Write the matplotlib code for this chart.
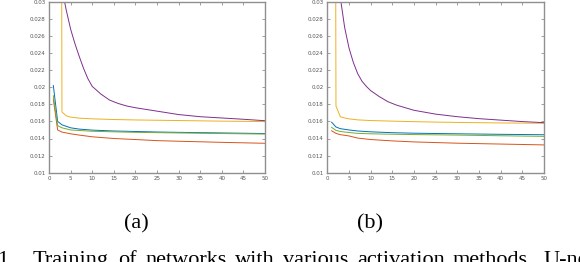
import matplotlib
matplotlib.use("Agg")
import matplotlib.pyplot as plt
import numpy as np

# MATLAB default colours
c_blue, c_red, c_yellow, c_purple, c_green = "#0072BD", "#D95319", "#EDB120", "#7E2F8E", "#77AC30"

# (a) loss curves
a_blue_x = [1, 2, 3, 5, 7, 10, 15, 20, 25, 30, 40, 50]
a_blue_y = [0.0202, 0.0160, 0.0156, 0.01525, 0.0151, 0.01498, 0.01488, 0.01482, 0.01476, 0.01472, 0.01465, 0.01458]
a_green_x = [1, 2, 3, 5, 10, 15, 20, 30, 40, 50]
a_green_y = [0.0190, 0.0155, 0.01525, 0.0150, 0.01485, 0.01478, 0.01472, 0.01465, 0.01458, 0.01452]
a_red_x = [1, 2, 3, 5, 7, 10, 15, 20, 25, 30, 40, 50]
a_red_y = [0.0186, 0.0150, 0.01475, 0.01455, 0.0144, 0.0142, 0.0140, 0.01388, 0.01375, 0.01368, 0.01355, 0.01344]
a_yellow_x = [1, 2, 3, 4, 5, 7, 10, 15, 20, 30, 40, 50]
a_yellow_y = [0.25, 0.25, 0.0171, 0.01665, 0.0165, 0.01638, 0.0163, 0.01622, 0.01617, 0.0161, 0.01603, 0.01598]
a_purple_x = [2, 3, 4, 5, 6, 7, 8, 9, 10, 12, 14, 16, 18, 20, 25, 30, 35, 40, 45, 50]
a_purple_y = [0.045, 0.0315, 0.0290, 0.0268, 0.0251, 0.0236, 0.0222, 0.0210, 0.0201, 0.0192, 0.0185, 0.0181,
              0.0178, 0.0176, 0.0172, 0.0168, 0.01655, 0.0164, 0.01625, 0.01608]

# (b)
b_x = [1, 2, 3, 5, 7, 10, 15, 20, 30, 40, 50]
b_blue_y = [0.0159, 0.01535, 0.01515, 0.0150, 0.01488, 0.01478, 0.01468, 0.01462, 0.01455, 0.01449, 0.01444]
b_green_y = [0.0153, 0.01495, 0.01482, 0.0147, 0.0146, 0.01455, 0.0145, 0.01446, 0.0144, 0.01432, 0.01425]
b_red_y = [0.0149, 0.0146, 0.01445, 0.0143, 0.01405, 0.01388, 0.01372, 0.0136, 0.01345, 0.01335, 0.01325]
b_yellow_x = [1, 2, 3, 4, 5, 7, 10, 15, 20, 25, 30, 40, 50]
b_yellow_y = [0.25, 0.0178, 0.01655, 0.0164, 0.0163, 0.01618, 0.0161, 0.01603, 0.01597, 0.01592, 0.01588, 0.01582, 0.01578]
b_purple_x = [2, 3, 4, 5, 6, 7, 8, 9, 10, 12, 14, 16, 18, 20, 25, 30, 35, 40, 45, 50]
b_purple_y = [0.050, 0.0305, 0.0270, 0.0246, 0.0229, 0.0216, 0.0207, 0.0201, 0.0196, 0.0189, 0.0183, 0.0179,
              0.0176, 0.0173, 0.01685, 0.01655, 0.01632, 0.01615, 0.01598, 0.01585]

sub_labels = ["(a)", "(b)"]
caption_words = ["1", "Training", "of", "networks", "with", "various", "activation", "methods.", "U-net"]
# justified line, left edge of each word in pixels
caption_x = [-3, 33, 118, 145, 235, 283, 357, 453, 543]

xticks = np.arange(0, 51, 5)
yticks = np.arange(0.01, 0.0301, 0.002)

fig = plt.figure(figsize=(5.8, 2.62), dpi=100)
ax1 = fig.add_axes([49 / 580, 89.3 / 262, 216 / 580, 171 / 262])
ax2 = fig.add_axes([327.3 / 580, 89.3 / 262, 216.7 / 580, 171 / 262])

lw = 0.7
ax1.plot(a_blue_x, a_blue_y, color=c_blue, lw=lw)
ax1.plot(a_red_x, a_red_y, color=c_red, lw=lw)
ax1.plot(a_yellow_x, a_yellow_y, color=c_yellow, lw=lw)
ax1.plot(a_purple_x, a_purple_y, color=c_purple, lw=lw)
ax1.plot(a_green_x, a_green_y, color=c_green, lw=lw)

ax2.plot(b_x, b_blue_y, color=c_blue, lw=lw)
ax2.plot(b_x, b_red_y, color=c_red, lw=lw)
ax2.plot(b_yellow_x, b_yellow_y, color=c_yellow, lw=lw)
ax2.plot(b_purple_x, b_purple_y, color=c_purple, lw=lw)
ax2.plot(b_x, b_green_y, color=c_green, lw=lw)

for ax in [ax1, ax2]:
    ax.set_xlim(0, 50)
    ax.set_ylim(0.01, 0.03)
    ax.set_xticks(xticks)
    ax.set_yticks(yticks)
    ax.set_yticklabels(["%g" % round(v, 3) for v in yticks])
    ax.tick_params(direction="in", length=2, width=0.5, color="#777777", labelsize=4,
                   labelcolor="#555555", top=True, right=True, pad=2.5)
    for s in ax.spines.values():
        s.set_color("#8f8f8f")
        s.set_linewidth(1.0)

fig.text(136.7 / 580, 38.5 / 262, sub_labels[0], family="Liberation Serif", fontsize=16, ha="center", va="center")
fig.text(370 / 580, 38.5 / 262, sub_labels[1], family="Liberation Serif", fontsize=16, ha="center", va="center")
for w, x in zip(caption_words, caption_x):
    fig.text(x / 580, -2.6 / 262, w, family="Liberation Serif", fontsize=16, ha="left", va="baseline")

fig.savefig("out.png", dpi=100)
